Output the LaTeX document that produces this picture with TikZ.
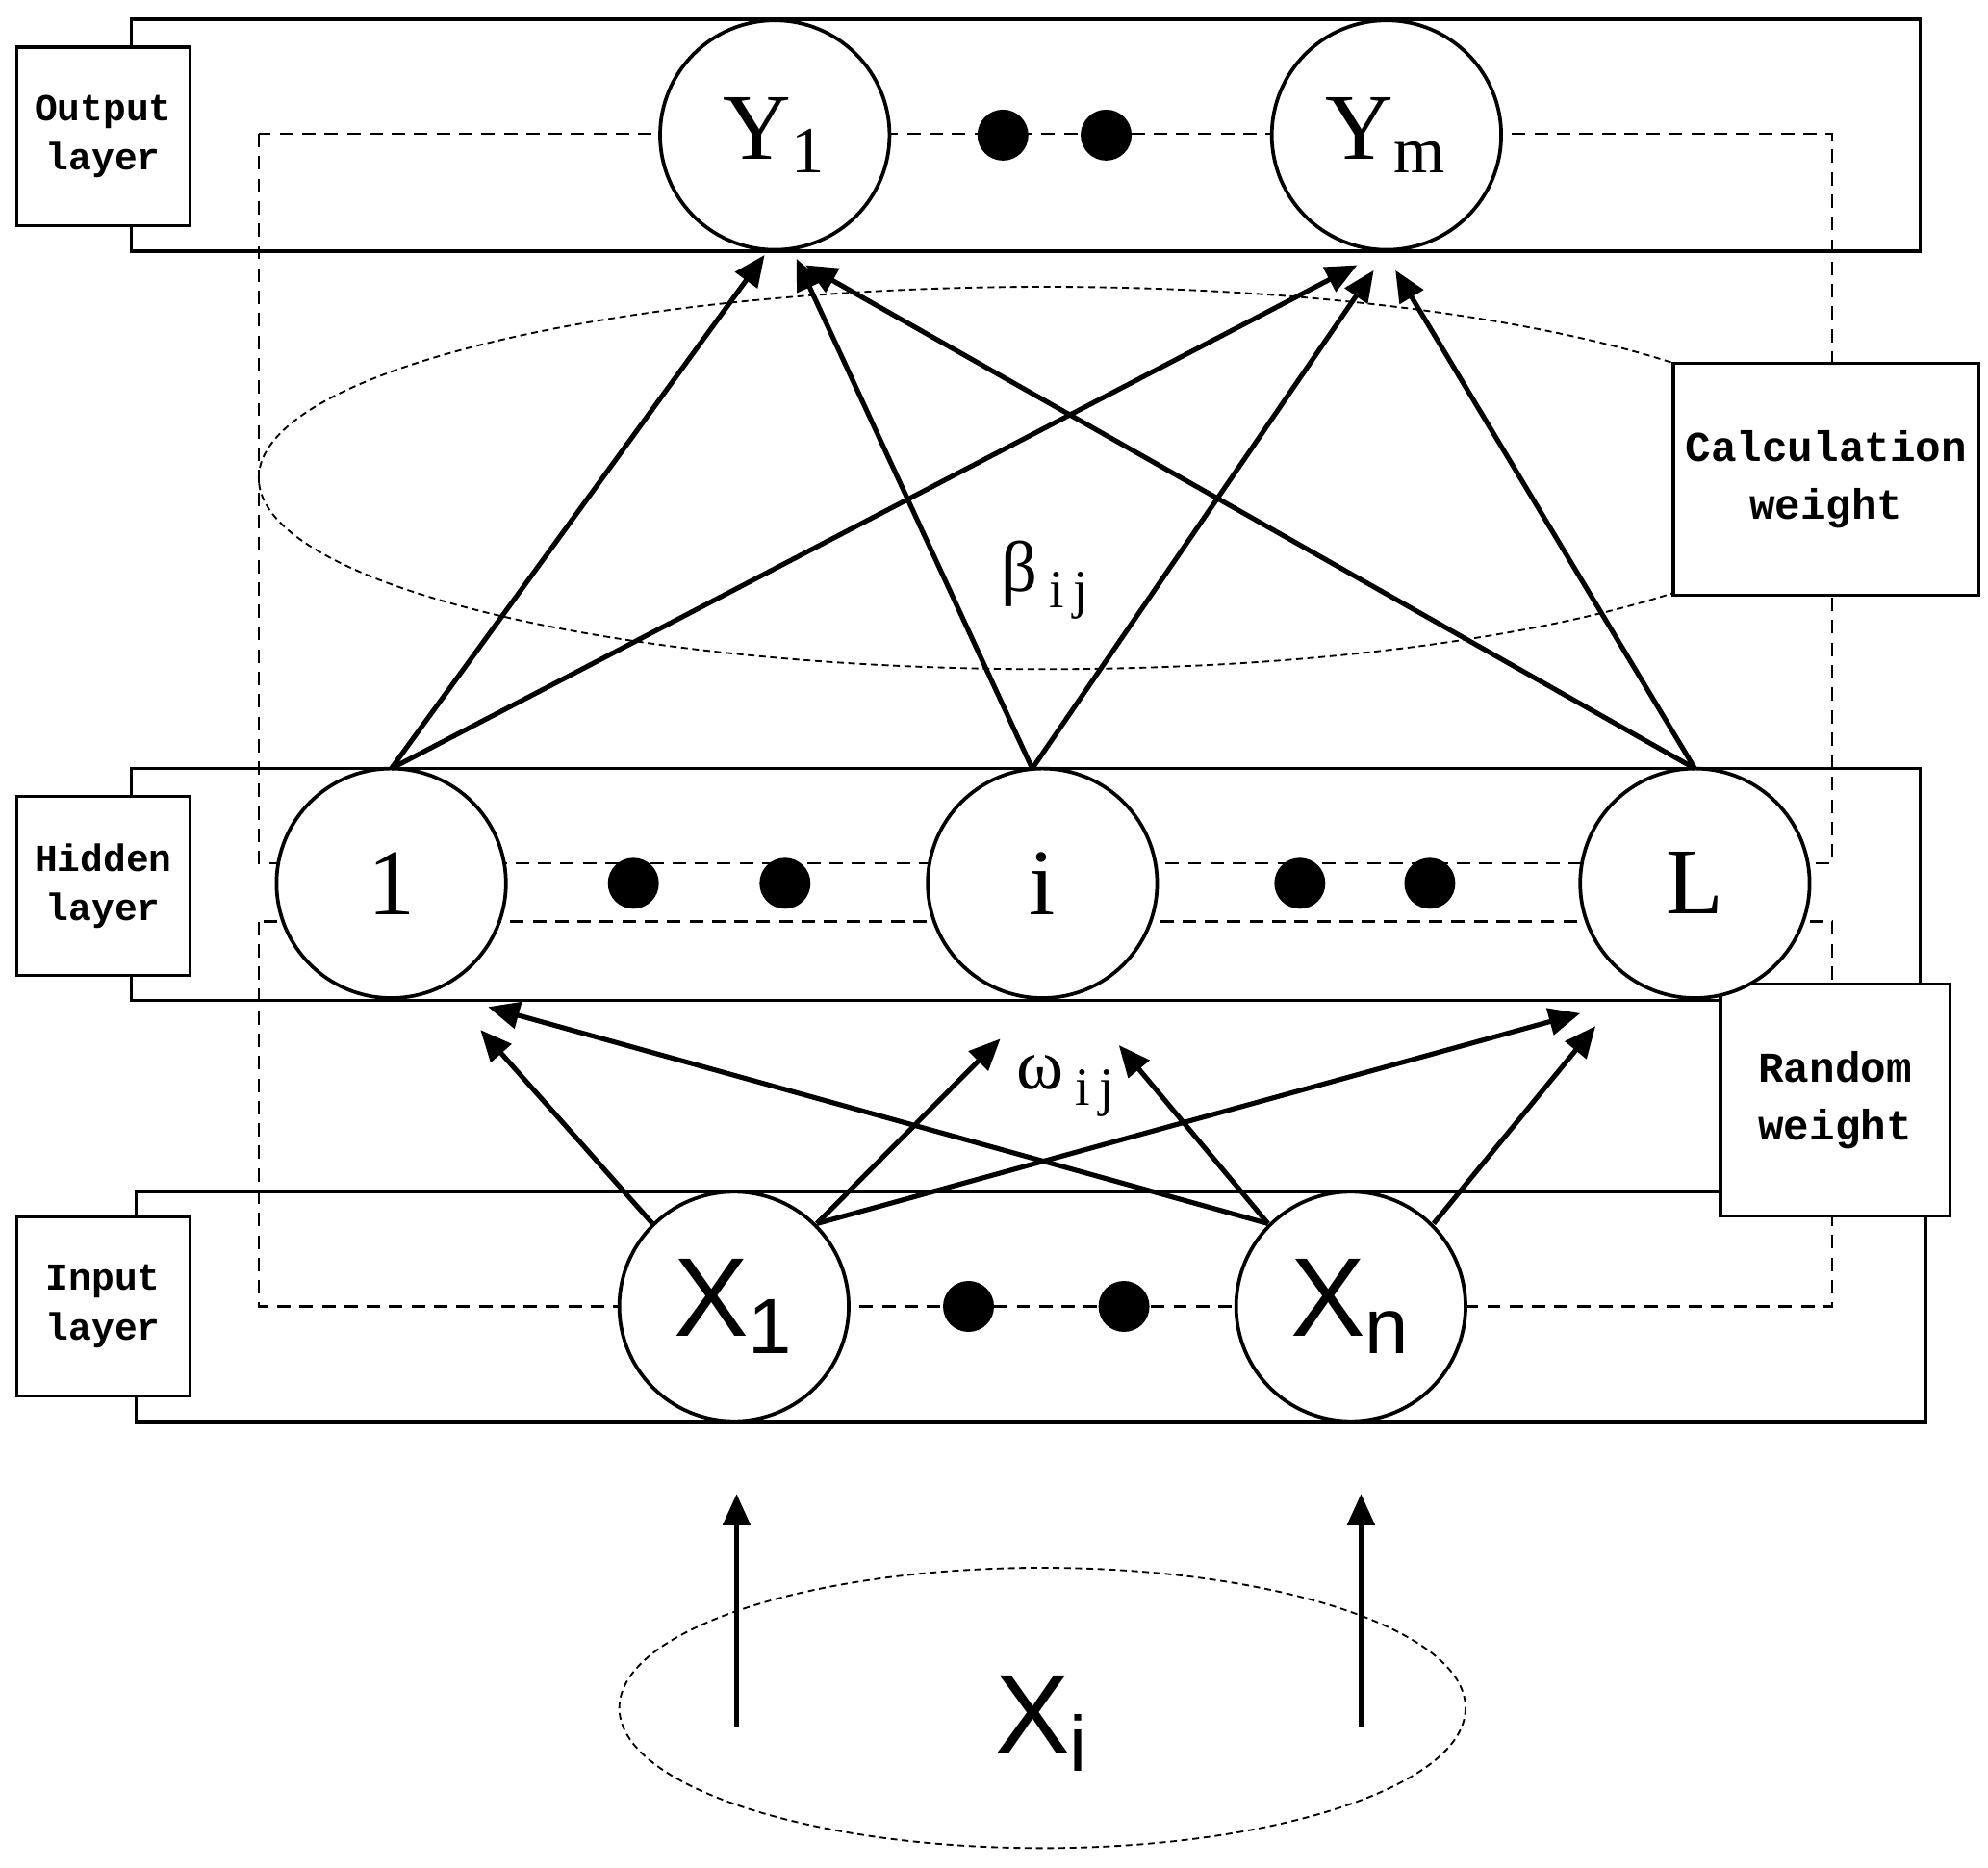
\documentclass[tikz,border=0pt]{standalone}
\usepackage{fontspec}
\setmainfont{Liberation Serif}
\newfontfamily\sansf{Liberation Sans}
\newfontfamily\monof{Liberation Mono}
\usetikzlibrary{arrows.meta}
\begin{document}
\begin{tikzpicture}[x=0.01cm,y=-0.01cm,
  frame/.style={draw,line width=0.7pt},
  lbl/.style={draw,fill=white,line width=0.7pt,align=center,font=\monof\bfseries\fontsize{8.5}{11}\selectfont,inner sep=0pt},
  neuron/.style={circle,draw,fill=white,line width=0.8pt,minimum size=180*0.01cm,inner sep=0pt},
  dot/.style={circle,fill=black,minimum size=40*0.01cm,inner sep=0pt},
  dsh/.style={draw,dash pattern=on 3pt off 2pt,line width=0.45pt},
  dell/.style={draw,dash pattern=on 1.5pt off 1pt,line width=0.4pt},
  arr/.style={-{Triangle[length=7pt,width=6pt]},line width=1.1pt}]
\useasboundingbox (0,0) rectangle (1560,1465);
% frames
\draw[frame] (103,15) rectangle (1507,197);
\draw[frame] (103,603) rectangle (1507,785);
\draw[frame] (107,935) rectangle (1511,1116);
% dashed rectangles
\draw[dsh] (203,105) rectangle (1438,677);
\draw[dsh] (203,723) rectangle (1438,1025);
% ellipses
\draw[dell] (820,375) ellipse (617 and 150);
\draw[dell] (818,1340) ellipse (332 and 110);
% labels
\node[lbl,minimum width=136*0.01cm,minimum height=140*0.01cm] (ol) at (81,107) {Output\\layer};
\node[lbl,minimum width=136*0.01cm,minimum height=140*0.01cm] (hl) at (81,695) {Hidden\\layer};
\node[lbl,minimum width=136*0.01cm,minimum height=140*0.01cm] (il) at (81,1025) {Input\\layer};
\node[lbl,font=\monof\bfseries\fontsize{9.5}{13}\selectfont,minimum width=240*0.01cm,minimum height=182*0.01cm] (cw) at (1433,376) {Calculation\\weight};
\node[lbl,font=\monof\bfseries\fontsize{9.5}{13}\selectfont,minimum width=180*0.01cm,minimum height=182*0.01cm] (rw) at (1440,863) {Random\\weight};
% neurons
\node[neuron,font=\fontsize{21}{24}\selectfont] (y1) at (608,106) {Y\textsubscript{1}};
\node[neuron,font=\fontsize{21}{24}\selectfont] (ym) at (1088,106) {Y\textsubscript{m}};
\node[neuron,font=\fontsize{21}{24}\selectfont] (h1) at (307,693) {1};
\node[neuron,font=\fontsize{21}{24}\selectfont] (hi) at (818,693) {i};
\node[neuron,font=\fontsize{21}{24}\selectfont] (hL) at (1330,693) {L};
\node[neuron,font=\sansf\fontsize{25}{28}\selectfont] (x1) at (576,1025) {X\textsubscript{1}};
\node[neuron,font=\sansf\fontsize{25}{28}\selectfont] (xn) at (1060,1025) {X\textsubscript{n}};
\node[font=\sansf\fontsize{25}{28}\selectfont] (xi) at (818,1352) {X\textsubscript{i}};
% dots
\foreach \n/\x/\y in {a/787/106,b/868/106,c/497/693,d/616/693,e/1020/693,f/1122/693,g/760/1025,h/882/1025}
  \node[dot] (d\n) at (\x,\y) {};
% weight labels
\node[font=\fontsize{16}{18}\selectfont] (beta) at (820,455) {β\,\raisebox{-0.5ex}{\fontsize{12}{14}\selectfont i\,j}};
\node[font=\fontsize{16}{18}\selectfont] (omega) at (836,852) {ω\,\raisebox{-0.5ex}{\fontsize{12}{14}\selectfont i\,j}};
% arrow end coordinates
\coordinate (t1a) at (600,200); \coordinate (t1b) at (1065,208);
\coordinate (tia) at (625,203); \coordinate (tib) at (1078,212);
\coordinate (tLa) at (632,208); \coordinate (tLb) at (1095,212);
\coordinate (s1) at (307,603); \coordinate (si) at (810,603); \coordinate (sL) at (1330,603);
\coordinate (u1a) at (377,808); \coordinate (u1b) at (785,815); \coordinate (u1c) at (1240,795);
\coordinate (una) at (383,790); \coordinate (unb) at (878,820); \coordinate (unc) at (1252,805);
\coordinate (v1a) at (512,960); \coordinate (v1b) at (641,960);
\coordinate (vna) at (995,960); \coordinate (vnb) at (1125,960);
\coordinate (pa) at (578,1355); \coordinate (qa) at (578,1172);
\coordinate (pb) at (1068,1355); \coordinate (qb) at (1068,1172);
% arrows
\draw[arr] (s1) -- (t1a); \draw[arr] (s1) -- (t1b);
\draw[arr] (si) -- (tia); \draw[arr] (si) -- (tib);
\draw[arr] (sL) -- (tLa); \draw[arr] (sL) -- (tLb);
\draw[arr] (v1a) -- (u1a); \draw[arr] (v1b) -- (u1b); \draw[arr] (v1b) -- (u1c);
\draw[arr] (vna) -- (una); \draw[arr] (vna) -- (unb); \draw[arr] (vnb) -- (unc);
\draw[arr] (pa) -- (qa); \draw[arr] (pb) -- (qb);
\end{tikzpicture}
\end{document}
